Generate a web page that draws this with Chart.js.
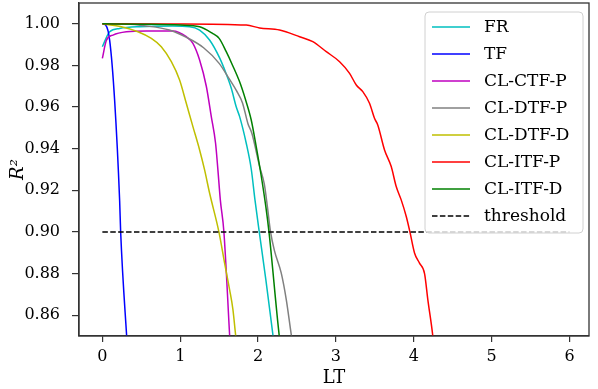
<!DOCTYPE html>
<html><head><meta charset="utf-8">
<script src="https://cdn.jsdelivr.net/npm/chart.js@4/dist/chart.umd.min.js"></script>
<style>html,body{margin:0;padding:0;background:#fff}#w{width:598px;height:389px}</style>
</head><body><div id="w"><canvas id="c" width="598" height="389"></canvas></div>
<script>
// ---- data ----
const SERIES_NAMES = ['FR','TF','CL-CTF-P','CL-DTF-P','CL-DTF-D','CL-ITF-P','CL-ITF-D','threshold'];
const SERIES_COLORS = ['#00bfbf','#0000ff','#bf00bf','#808080','#bfbf00','#ff0000','#008000','#000000'];

const FR_LT = [0, 0.094, 0.222, 0.479, 0.90, 1.12, 1.249, 1.377, 1.506, 1.59, 1.656, 1.72, 1.763, 1.848, 1.913, 1.96, 2.015, 2.10, 2.19, 2.21];
const FR_R2 = [0.989, 0.9962, 0.9978, 0.9986, 0.9989, 0.9986, 0.997, 0.9922, 0.9836, 0.976, 0.969, 0.960, 0.9554, 0.9426, 0.930, 0.9154, 0.900, 0.877, 0.8507, 0.845];

const TF_LT = [0, 0.042, 0.094, 0.158, 0.222, 0.235, 0.312, 0.33];
const TF_R2 = [1.0, 0.9994, 0.992, 0.963, 0.915, 0.900, 0.850, 0.840];

const CTFP_LT = [0, 0.051, 0.136, 0.308, 0.565, 0.906, 1.078, 1.163, 1.249, 1.335, 1.399, 1.454, 1.484, 1.515, 1.561, 1.634, 1.65];
const CTFP_R2 = [0.9834, 0.992, 0.9946, 0.9962, 0.9966, 0.9966, 0.9938, 0.9906, 0.9826, 0.970, 0.9554, 0.9426, 0.9298, 0.9154, 0.900, 0.8507, 0.840];

const DTFP_LT = [0, 0.3, 0.56, 0.86, 1.08, 1.3, 1.5, 1.63, 1.72, 1.8, 1.87, 1.92, 2.02, 2.08, 2.12, 2.16, 2.21, 2.297, 2.362, 2.426, 2.45];
const DTFP_R2 = [1.0, 0.9999, 0.999, 0.997, 0.9935, 0.9885, 0.981, 0.9735, 0.968, 0.962, 0.952, 0.9474, 0.9314, 0.923, 0.912, 0.900, 0.891, 0.8803, 0.8675, 0.8507, 0.845];

const DTFD_LT = [0, 0.244, 0.457, 0.629, 0.757, 0.886, 0.992, 1.078, 1.163, 1.249, 1.313, 1.377, 1.497, 1.57, 1.634, 1.677, 1.711, 1.73];
const DTFD_R2 = [1.0, 0.9986, 0.9962, 0.993, 0.989, 0.9818, 0.973, 0.9618, 0.9506, 0.9394, 0.9298, 0.9187, 0.900, 0.885, 0.8723, 0.8627, 0.8507, 0.845];

const ITFP_LT = [0, 1.0, 1.849, 2.019, 2.276, 2.533, 2.703, 2.876, 3.047, 3.175, 3.261, 3.345, 3.431, 3.495, 3.537, 3.624, 3.71, 3.774, 3.838, 3.903, 3.95, 4.009, 4.073, 4.138, 4.18, 4.244, 4.27];
const ITFP_R2 = [1.0, 0.99995, 0.9994, 0.998, 0.997, 0.9938, 0.9914, 0.9866, 0.9818, 0.9762, 0.9706, 0.9674, 0.9618, 0.9546, 0.9514, 0.9394, 0.9314, 0.9218, 0.9154, 0.9074, 0.900, 0.8899, 0.885, 0.880, 0.8675, 0.850, 0.840];

const ITFD_LT = [0, 0.5, 1.0, 1.249, 1.41, 1.5, 1.591, 1.673, 1.764, 1.84, 1.912, 1.976, 2.04, 2.10, 2.14, 2.27, 2.29];
const ITFD_R2 = [1.0, 0.9998, 0.9994, 0.9986, 0.9955, 0.993, 0.9866, 0.980, 0.972, 0.9634, 0.9538, 0.941, 0.927, 0.912, 0.900, 0.8507, 0.845];

const THRESH_LT = [0, 6.0];
const THRESH_R2 = [0.90, 0.90];

const X_TICKS = [0, 1, 2, 3, 4, 5, 6];
const Y_TICKS = [0.86, 0.88, 0.90, 0.92, 0.94, 0.96, 0.98, 1.00];

// ---- build chart ----
const ALL_X = [FR_LT, TF_LT, CTFP_LT, DTFP_LT, DTFD_LT, ITFP_LT, ITFD_LT, THRESH_LT];
const ALL_Y = [FR_R2, TF_R2, CTFP_R2, DTFP_R2, DTFD_R2, ITFP_R2, ITFD_R2, THRESH_R2];
const N = SERIES_NAMES.length;
const datasets = SERIES_NAMES.map((name, i) => ({
  label: name,
  data: ALL_X[i].map((x, k) => ({x: x, y: ALL_Y[i][k]})),
  borderColor: SERIES_COLORS[i],
  backgroundColor: SERIES_COLORS[i],
  borderWidth: 1.5,
  borderDash: name === 'threshold' ? [5.5, 2.4] : [],
  pointRadius: 0,
  fill: false,
  cubicInterpolationMode: name === 'threshold' ? 'default' : 'monotone',
  order: N - i
}));

const FONT = "'DejaVu Serif', serif";

const framePlugin = {
  id: 'frame',
  afterDraw(chart) {
    const {ctx, chartArea: a} = chart;
    ctx.save();
    ctx.strokeStyle = '#333';
    ctx.lineWidth = 1.3;
    ctx.strokeRect(a.left, a.top, a.right - a.left, a.bottom - a.top);
    // legend
    const bx = 425, by = 12, bw = 158, bh = 221, r = 4;
    ctx.fillStyle = 'rgba(255,255,255,0.8)';
    ctx.strokeStyle = '#d0d0d0';
    ctx.lineWidth = 1;
    ctx.beginPath();
    ctx.moveTo(bx + r, by);
    ctx.arcTo(bx + bw, by, bx + bw, by + bh, r);
    ctx.arcTo(bx + bw, by + bh, bx, by + bh, r);
    ctx.arcTo(bx, by + bh, bx, by, r);
    ctx.arcTo(bx, by, bx + bw, by, r);
    ctx.closePath();
    ctx.fill();
    ctx.stroke();
    ctx.font = '17px ' + FONT;
    ctx.textBaseline = 'middle';
    ctx.textAlign = 'left';
    chart.data.datasets.forEach((ds, i) => {
      const y = 27 + 27 * i;
      ctx.strokeStyle = ds.borderColor;
      ctx.lineWidth = 1.5;
      ctx.setLineDash(ds.borderDash || []);
      ctx.beginPath();
      ctx.moveTo(432, y);
      ctx.lineTo(470, y);
      ctx.stroke();
      ctx.setLineDash([]);
      ctx.fillStyle = '#000';
      ctx.fillText(ds.label, 484, y + 1);
    });
    ctx.restore();
  }
};

new Chart(document.getElementById('c'), {
  type: 'line',
  data: {datasets},
  options: {
    responsive: false,
    devicePixelRatio: 1,
    animation: false,
    layout: {padding: {top: 3, right: 9, left: 0, bottom: 0}},
    plugins: {legend: {display: false}, tooltip: {enabled: false}},
    scales: {
      x: {
        type: 'linear',
        min: -0.3, max: 6.25,
        afterBuildTicks: s => { s.ticks = X_TICKS.map(v => ({value: v})); },
        afterFit: s => { s.height = 53; s.paddingLeft = 0; s.paddingRight = 0; },
        grid: {drawOnChartArea: false, drawTicks: true, tickLength: 6, color: '#333', lineWidth: 1.2},
        border: {color: '#333', width: 1.3},
        ticks: {color: '#000', font: {family: FONT, size: 16}, padding: 5, maxRotation: 0,
                callback: v => String(v)},
        title: {display: true, text: 'LT', color: '#000', font: {family: FONT, size: 18}, padding: {top: 2, bottom: 0}}
      },
      y: {
        type: 'linear',
        min: 0.85, max: 1.01,
        afterBuildTicks: s => { s.ticks = Y_TICKS.map(v => ({value: v})); },
        afterFit: s => { s.width = 79; s.paddingTop = 0; s.paddingBottom = 0; },
        grid: {drawOnChartArea: false, drawTicks: true, tickLength: 7, color: '#333', lineWidth: 1.2},
        border: {color: '#333', width: 1.3},
        ticks: {color: '#000', font: {family: FONT, size: 16}, padding: 12,
                callback: v => Number(v).toFixed(2)},
        title: {display: true, text: 'R²', color: '#000', font: {family: FONT, size: 18, style: 'italic'}, padding: {top: 8, bottom: 0}}
      }
    }
  },
  plugins: [framePlugin]
});
</script></body></html>
